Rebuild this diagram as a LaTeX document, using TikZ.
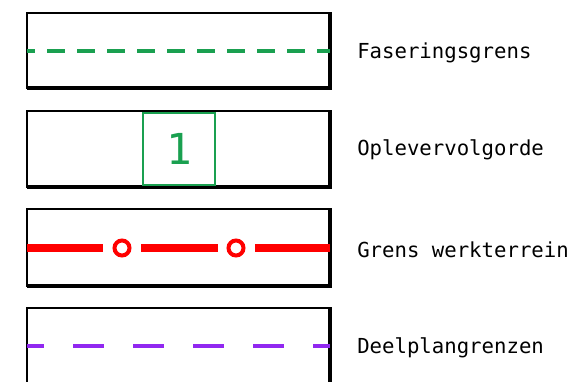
\documentclass[tikz,border=0pt]{standalone}
\usepackage{fontspec}
\newfontfamily\legendfont{DejaVu Sans Mono}
\definecolor{phasegreen}{RGB}{26,160,80}
\definecolor{siteRed}{RGB}{255,0,0}
\definecolor{planpurple}{RGB}{145,40,240}
\tikzset{
    frame/.style={line width=1.2pt},
    frameshadow/.style={line width=2.4pt},
    legendtext/.style={anchor=west, inner sep=0pt, font=\legendfont\fontsize{15.5}{18}\selectfont},
}
\begin{document}
\begin{tikzpicture}[x=0.75pt, y=-0.75pt]
        \useasboundingbox (0,0) rectangle (575,382);

        % Faseringsgrens
        \draw[frame] (27,13) rectangle (330,88);
        \draw[frameshadow] (27,88) -- (330,88) -- (330,12);
        \draw[phasegreen, line width=3.4pt, dash pattern=on 13.5pt off 9pt, dash phase=7.5pt] (27,51) -- (330,51);
        \node[legendtext] (fasering) at (357,53) {Faseringsgrens};

        % Oplevervolgorde
        \draw[frame] (27,111) rectangle (330,187);
        \draw[frameshadow] (27,187) -- (330,187) -- (330,110);
        \draw[phasegreen, line width=1.6pt, fill=white] (143,113) rectangle (215,185);
        \node[font=\legendfont\fontsize{32}{36}\selectfont, text=phasegreen] (volgnr) at (179,149) {1};
        \node[legendtext] (oplever) at (357,150) {Oplevervolgorde};

        % Grens werkterrein
        \draw[frame] (27,209) rectangle (330,286);
        \draw[frameshadow] (27,286) -- (330,286) -- (330,208);
        \draw[siteRed, line width=5.5pt] (27,248) -- (103,248);
        \draw[siteRed, line width=5.5pt] (141,248) -- (218,248);
        \draw[siteRed, line width=5.5pt] (255,248) -- (330,248);
        \draw[siteRed, line width=3pt] (122,248) circle (7.5);
        \draw[siteRed, line width=3pt] (236,248) circle (7.5);
        \node[legendtext] (werkterrein) at (357,250) {Grens werkterrein};

        % Deelplangrenzen
        \draw[frame] (27,384) -- (27,308) -- (330,308);
        \draw[frameshadow] (330,307) -- (330,384);
        \draw[planpurple, line width=2.5pt, dash pattern=on 23.5pt off 21.5pt, dash phase=10.5pt] (27,346) -- (330,346);
        \node[legendtext] (deelplan) at (357,348) {Deelplangrenzen};
    \end{tikzpicture}
\end{document}
